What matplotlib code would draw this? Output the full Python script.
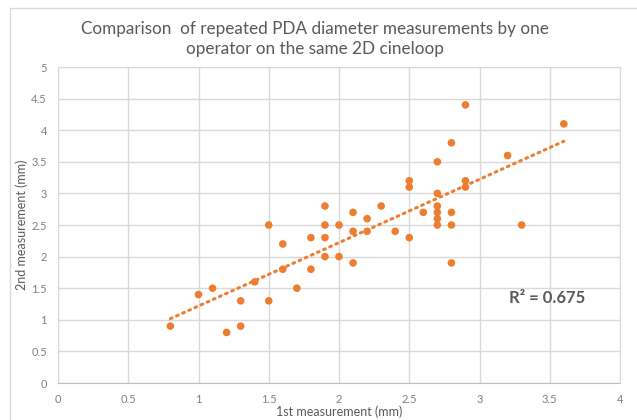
import numpy as np
import matplotlib
matplotlib.use("Agg")
import matplotlib.pyplot as plt
from matplotlib.patches import Rectangle

plt.rcParams['font.family'] = ['Lato', 'DejaVu Sans']

first = [0.8, 1.0, 1.1, 1.2, 1.3, 1.3, 1.4, 1.5, 1.5, 1.6, 1.6, 1.7, 1.8, 1.8,
         1.9, 1.9, 1.9, 1.9, 2.0, 2.0, 2.1, 2.1, 2.1, 2.2, 2.2, 2.3, 2.4, 2.5,
         2.5, 2.5, 2.6, 2.7, 2.7, 2.7, 2.7, 2.7, 2.7, 2.8, 2.8, 2.8, 2.8, 2.9,
         2.9, 2.9, 3.2, 3.3, 3.6]
second = [0.9, 1.4, 1.5, 0.8, 1.3, 0.9, 1.6, 1.3, 2.5, 2.2, 1.8, 1.5, 2.3, 1.8,
          2.3, 2.0, 2.5, 2.8, 2.5, 2.0, 2.7, 2.4, 1.9, 2.6, 2.4, 2.8, 2.4, 2.3,
          3.2, 3.1, 2.7, 3.5, 3.0, 2.8, 2.7, 2.6, 2.5, 3.8, 2.7, 2.5, 1.9, 4.4,
          3.2, 3.1, 3.6, 2.5, 4.1]
x_ticks = [0, 0.5, 1, 1.5, 2, 2.5, 3, 3.5, 4]
y_ticks = [0, 0.5, 1, 1.5, 2, 2.5, 3, 3.5, 4, 4.5, 5]
title = "Comparison  of repeated PDA diameter measurements by one\noperator on the same 2D cineloop"
r2_label = "R² = 0.675"

orange = "#ED7D31"
gray_text = "#595959"
tick_text = "#7F7F7F"
grid_c = "#D9D9D9"

fig = plt.figure(figsize=(6.37, 4.20), dpi=100)
fig.patches.append(Rectangle((10/637, -0.1), 1.0, 1 - 8/420 + 0.1,
                             transform=fig.transFigure, fill=False,
                             edgecolor="#D9D9D9", linewidth=1.0))
ax = fig.add_axes([58/637, 1 - 383/420, (620 - 58)/637, (383 - 67)/420])

x = np.array(first)
y = np.array(second)
coef = np.polyfit(x, y, 1)
xl = np.array([x.min(), x.max()])
ax.plot(xl, np.polyval(coef, xl), linestyle=(0, (0.6, 1.6)), color=orange,
        linewidth=2.2, dash_capstyle='round', zorder=2)
ax.scatter(x, y, s=30, color=orange, edgecolors='none', zorder=3)

ax.set_xlim(0, 4)
ax.set_ylim(0, 5)
ax.set_xticks(x_ticks)
ax.set_yticks(y_ticks)
ax.set_xticklabels([f"{t:g}" for t in x_ticks])
ax.set_yticklabels([f"{t:g}" for t in y_ticks])
ax.grid(True, color=grid_c, linewidth=1.0, zorder=0)
ax.set_axisbelow(True)
for side in ['top', 'right', 'left']:
    ax.spines[side].set_color(grid_c)
ax.spines['bottom'].set_color("#BFBFBF")
ax.tick_params(length=0, colors=tick_text, labelsize=8, pad=8)

ax.set_xlabel("1st measurement (mm)", color=gray_text, fontsize=9, labelpad=0)
ax.set_ylabel("2nd measurement (mm)", color=gray_text, fontsize=9, labelpad=2)
fig.text(315/637, 1 - 39/420, title, ha='center', va='center', color=gray_text,
         fontsize=12.3, linespacing=1.3)
ax.text(3.48, 1.35, r2_label, ha='center', va='center', color=gray_text,
        fontsize=12, fontweight='bold')

fig.savefig("out.png", dpi=100)
